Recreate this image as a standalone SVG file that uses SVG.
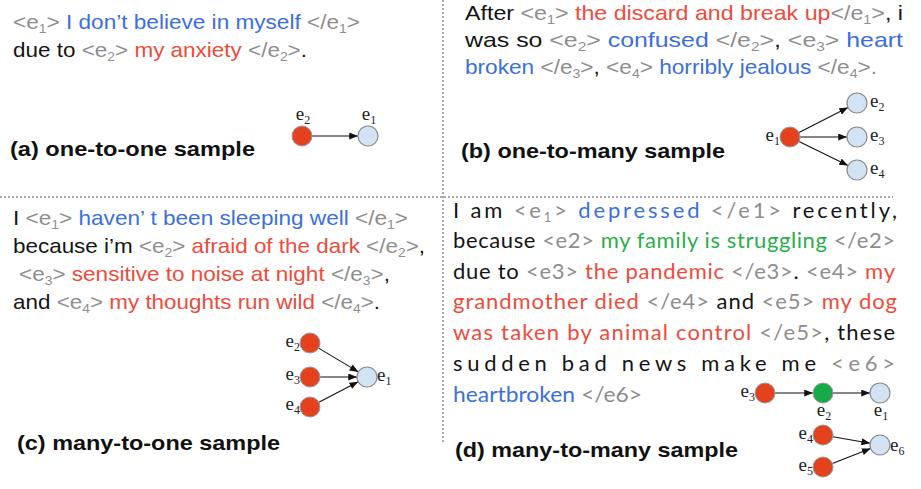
<svg xmlns="http://www.w3.org/2000/svg" width="921" height="489" viewBox="0 0 921 489">
<defs>
<style>
.t{font-family:"Liberation Sans",Arial,sans-serif;font-size:21px;fill:#151515}
.d{font-family:Lato,"Liberation Sans",sans-serif;font-size:22px;fill:#151515}
.lbl{font-family:"Liberation Sans",Arial,sans-serif;font-size:21px;font-weight:bold;fill:#111}
.g{fill:#8e8e8e}
.bl{fill:#3b6fdc}
.rd{fill:#ee4b3b}
.gr{fill:#2aae4c}
.nl{font-family:"Liberation Serif","Times New Roman",serif;font-size:19px;fill:#222}
.red{fill:#e4421e;stroke:#9a9a9a;stroke-width:1}
.blu{fill:#d2e3f3;stroke:#8a8a8a;stroke-width:1.2}
.grn{fill:#18a948;stroke:#9a9a9a;stroke-width:1}
.div{stroke:#555;stroke-width:1;stroke-dasharray:2 2;fill:none}
.edge{stroke:#111;stroke-width:1.1;fill:none;marker-end:url(#ah)}
</style>
<marker id="ah" viewBox="0 0 10 8" refX="10" refY="4" markerWidth="9" markerHeight="7" markerUnits="userSpaceOnUse" orient="auto">
<path d="M0,0 L10,4 L0,8 z" fill="#111"/>
</marker>
</defs>
<rect width="921" height="489" fill="#fff"/>

<g id="dividers">
<line class="div" x1="443" y1="0" x2="443" y2="444"/>
<line class="div" x1="0" y1="197" x2="893" y2="197"/>
</g>

<g id="panel-a-text">
<text class="t" x="13" y="29" textLength="347" lengthAdjust="spacingAndGlyphs"><tspan class="g">&lt;e<tspan dy="4" font-size="13">1</tspan><tspan dy="-4">&gt;</tspan></tspan> <tspan class="bl">I don’t believe in myself</tspan> <tspan class="g">&lt;/e<tspan dy="4" font-size="13">1</tspan><tspan dy="-4">&gt;</tspan></tspan></text>
<text class="t" x="13" y="57" textLength="294" lengthAdjust="spacingAndGlyphs">due to <tspan class="g">&lt;e<tspan dy="4" font-size="13">2</tspan><tspan dy="-4">&gt;</tspan></tspan> <tspan class="rd">my anxiety</tspan> <tspan class="g">&lt;/e<tspan dy="4" font-size="13">2</tspan><tspan dy="-4">&gt;</tspan></tspan>.</text>
<text class="lbl" x="10" y="156" textLength="245" lengthAdjust="spacingAndGlyphs">(a)  one-to-one sample</text>
</g>

<g id="panel-b-text">
<text class="t" x="465" y="20" textLength="438" lengthAdjust="spacingAndGlyphs">After <tspan class="g">&lt;e<tspan dy="4" font-size="13">1</tspan><tspan dy="-4">&gt;</tspan></tspan> <tspan class="rd">the discard and break up</tspan><tspan class="g">&lt;/e<tspan dy="4" font-size="13">1</tspan><tspan dy="-4">&gt;</tspan></tspan>, i</text>
<text class="t" x="465" y="47" textLength="438" lengthAdjust="spacingAndGlyphs">was so <tspan class="g">&lt;e<tspan dy="4" font-size="13">2</tspan><tspan dy="-4">&gt;</tspan></tspan> <tspan class="bl">confused</tspan> <tspan class="g">&lt;/e<tspan dy="4" font-size="13">2</tspan><tspan dy="-4">&gt;</tspan></tspan>, <tspan class="g">&lt;e<tspan dy="4" font-size="13">3</tspan><tspan dy="-4">&gt;</tspan></tspan> <tspan class="bl">heart</tspan></text>
<text class="t" x="465" y="74" textLength="412" lengthAdjust="spacingAndGlyphs"><tspan class="bl">broken</tspan> <tspan class="g">&lt;/e<tspan dy="4" font-size="13">3</tspan><tspan dy="-4">&gt;</tspan></tspan>, <tspan class="g">&lt;e<tspan dy="4" font-size="13">4</tspan><tspan dy="-4">&gt;</tspan></tspan> <tspan class="bl">horribly jealous</tspan> <tspan class="g">&lt;/e<tspan dy="4" font-size="13">4</tspan><tspan dy="-4">&gt;.</tspan></tspan></text>
<text class="lbl" x="461" y="158" textLength="264" lengthAdjust="spacingAndGlyphs">(b)  one-to-many sample</text>
</g>

<g id="panel-c-text">
<text class="t" x="13" y="225" textLength="395" lengthAdjust="spacingAndGlyphs">I <tspan class="g">&lt;e<tspan dy="4" font-size="13">1</tspan><tspan dy="-4">&gt;</tspan></tspan> <tspan class="bl">haven’ t been sleeping well</tspan> <tspan class="g">&lt;/e<tspan dy="4" font-size="13">1</tspan><tspan dy="-4">&gt;</tspan></tspan></text>
<text class="t" x="13" y="253" textLength="412" lengthAdjust="spacingAndGlyphs">because i’m <tspan class="g">&lt;e<tspan dy="4" font-size="13">2</tspan><tspan dy="-4">&gt;</tspan></tspan> <tspan class="rd">afraid of the dark</tspan> <tspan class="g">&lt;/e<tspan dy="4" font-size="13">2</tspan><tspan dy="-4">&gt;</tspan></tspan>,</text>
<text class="t" x="19" y="281" textLength="371" lengthAdjust="spacingAndGlyphs"><tspan class="g">&lt;e<tspan dy="4" font-size="13">3</tspan><tspan dy="-4">&gt;</tspan></tspan> <tspan class="rd">sensitive to noise at night</tspan> <tspan class="g">&lt;/e<tspan dy="4" font-size="13">3</tspan><tspan dy="-4">&gt;</tspan></tspan>,</text>
<text class="t" x="13" y="309" textLength="367" lengthAdjust="spacingAndGlyphs">and <tspan class="g">&lt;e<tspan dy="4" font-size="13">4</tspan><tspan dy="-4">&gt;</tspan></tspan> <tspan class="rd">my thoughts run wild</tspan> <tspan class="g">&lt;/e<tspan dy="4" font-size="13">4</tspan><tspan dy="-4">&gt;</tspan></tspan>.</text>
<text class="lbl" x="17" y="450" textLength="263" lengthAdjust="spacingAndGlyphs">(c)  many-to-one sample</text>
</g>

<g id="panel-d-text">
<text class="d" x="453" y="218" textLength="444" lengthAdjust="spacing">I am <tspan class="g">&lt;e<tspan dy="4" font-size="13">1</tspan><tspan dy="-4">&gt;</tspan></tspan> <tspan class="bl">depressed</tspan> <tspan class="g">&lt;/e1&gt;</tspan> recently,</text>
<text class="d" x="453" y="248" textLength="442" lengthAdjust="spacing">because <tspan class="g">&lt;e2&gt;</tspan> <tspan class="gr">my family is struggling</tspan> <tspan class="g">&lt;/e2&gt;</tspan></text>
<text class="d" x="453" y="279" textLength="442" lengthAdjust="spacing">due to <tspan class="g">&lt;e3&gt;</tspan> <tspan class="rd">the pandemic</tspan> <tspan class="g">&lt;/e3&gt;</tspan>. <tspan class="g">&lt;e4&gt;</tspan> <tspan class="rd">my</tspan></text>
<text class="d" x="453" y="309" textLength="444" lengthAdjust="spacing"><tspan class="rd">grandmother died</tspan> <tspan class="g">&lt;/e4&gt;</tspan> and <tspan class="g">&lt;e5&gt;</tspan> <tspan class="rd">my dog</tspan></text>
<text class="d" x="453" y="340" textLength="442" lengthAdjust="spacing"><tspan class="rd">was taken by animal control</tspan> <tspan class="g">&lt;/e5&gt;</tspan>, these</text>
<text class="d" x="453" y="371" textLength="442" lengthAdjust="spacing">sudden bad news make me <tspan class="g">&lt;e6&gt;</tspan></text>
<text class="d" x="453" y="402" textLength="189" lengthAdjust="spacingAndGlyphs"><tspan class="bl">heartbroken</tspan> <tspan class="g">&lt;/e6&gt;</tspan></text>
<text class="lbl" x="455" y="457" textLength="283" lengthAdjust="spacingAndGlyphs">(d)  many-to-many sample</text>
</g>

<g id="connectors">
<line class="edge" x1="312" y1="136" x2="358" y2="136"/>
<line class="edge" x1="799" y1="132.5" x2="848" y2="107.5"/>
<line class="edge" x1="800" y1="137" x2="847" y2="137"/>
<line class="edge" x1="799" y1="141.5" x2="848" y2="165.5"/>
<line class="edge" x1="318.6" y1="348.1" x2="358.4" y2="371.9"/>
<line class="edge" x1="320" y1="377" x2="357" y2="377"/>
<line class="edge" x1="318.9" y1="402.3" x2="358.2" y2="381.7"/>
<line class="edge" x1="775" y1="393" x2="813" y2="393"/>
<line class="edge" x1="833" y1="393" x2="870" y2="393"/>
<line class="edge" x1="832.8" y1="436.7" x2="870.2" y2="443.3"/>
<line class="edge" x1="832.3" y1="463.4" x2="870.7" y2="448.6"/>
</g>

<g id="a-e2"><circle class="red" cx="302" cy="136" r="10"/><text class="nl" x="303" y="120" text-anchor="middle">e<tspan dy="4" font-size="12">2</tspan></text></g>
<g id="a-e1"><circle class="blu" cx="368" cy="136" r="10"/><text class="nl" x="369" y="120" text-anchor="middle">e<tspan dy="4" font-size="12">1</tspan></text></g>

<g id="b-e1"><circle class="red" cx="790" cy="137" r="10"/><text class="nl" x="780" y="141" text-anchor="end">e<tspan dy="4" font-size="12">1</tspan></text></g>
<g id="b-e2"><circle class="blu" cx="857" cy="103" r="10"/><text class="nl" x="870" y="107">e<tspan dy="4" font-size="12">2</tspan></text></g>
<g id="b-e3"><circle class="blu" cx="857" cy="137" r="10"/><text class="nl" x="870" y="141">e<tspan dy="4" font-size="12">3</tspan></text></g>
<g id="b-e4"><circle class="blu" cx="857" cy="170" r="10"/><text class="nl" x="870" y="174">e<tspan dy="4" font-size="12">4</tspan></text></g>

<g id="c-e2"><circle class="red" cx="310" cy="343" r="10"/><text class="nl" x="300" y="347" text-anchor="end">e<tspan dy="4" font-size="12">2</tspan></text></g>
<g id="c-e3"><circle class="red" cx="310" cy="377" r="10"/><text class="nl" x="300" y="380" text-anchor="end">e<tspan dy="4" font-size="12">3</tspan></text></g>
<g id="c-e4"><circle class="red" cx="310" cy="407" r="10"/><text class="nl" x="300" y="410" text-anchor="end">e<tspan dy="4" font-size="12">4</tspan></text></g>
<g id="c-e1"><circle class="blu" cx="367" cy="377" r="10"/><text class="nl" x="377" y="381">e<tspan dy="4" font-size="12">1</tspan></text></g>

<g id="d-e3"><circle class="red" cx="765" cy="393" r="10"/><text class="nl" x="755" y="397" text-anchor="end">e<tspan dy="4" font-size="12">3</tspan></text></g>
<g id="d-e2"><circle class="grn" cx="823" cy="393" r="10"/><text class="nl" x="824" y="416" text-anchor="middle">e<tspan dy="4" font-size="12">2</tspan></text></g>
<g id="d-e1"><circle class="blu" cx="880" cy="393" r="10"/><text class="nl" x="881" y="416" text-anchor="middle">e<tspan dy="4" font-size="12">1</tspan></text></g>
<g id="d-e4"><circle class="red" cx="823" cy="435" r="10"/><text class="nl" x="813" y="439" text-anchor="end">e<tspan dy="4" font-size="12">4</tspan></text></g>
<g id="d-e5"><circle class="red" cx="823" cy="467" r="10"/><text class="nl" x="813" y="471" text-anchor="end">e<tspan dy="4" font-size="12">5</tspan></text></g>
<g id="d-e6"><circle class="blu" cx="880" cy="445" r="10"/><text class="nl" x="890" y="451">e<tspan dy="4" font-size="12">6</tspan></text></g>
</svg>
